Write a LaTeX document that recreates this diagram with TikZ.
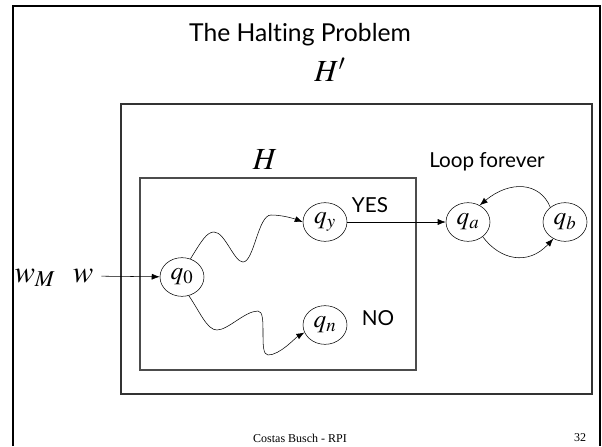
\documentclass[tikz,border=0pt]{standalone}
\usepackage{mathptmx}
\usepackage{fontspec}
\setmainfont{Liberation Serif}
\setsansfont{Lato}[Ligatures=NoCommon]
\usetikzlibrary{shapes.geometric, arrows.meta, positioning}

\begin{document}
\begin{tikzpicture}[x=0.75pt, y=-0.75pt, >={Latex[length=6pt,width=4.5pt]}, inner sep=1pt,
  state/.style={ellipse, draw, inner sep=0pt, minimum width=33pt, minimum height=29pt, font=\fontsize{19}{19}\selectfont},
  label/.style={font=\sffamily\fontsize{15.5}{15.5}\selectfont}]
\useasboundingbox (0,0) rectangle (602,446);

% slide frame and the two machines
\draw [line width=2pt] (13,446) -- (13,6) -- (600,6) -- (600,446);
\draw [black!80, line width=0.8pt] (121,104) rectangle (592,394);
\draw [black!70, line width=0.8pt] (140,178) rectangle (416,370);

\node (title) at (300,35) {\sffamily\fontsize{18.5}{18.5}\selectfont The Halting Problem};
\node (Hp) at (330,70) {\fontsize{23}{23}\selectfont $H'$};
\node (H) at (265,160) {\fontsize{23}{23}\selectfont $H$};

\node (q0) [state] at (182,277) {$q_0$};
\node (qy) [state] at (325,222) {$q_y$};
\node (qn) [state] at (325,325) {$q_n$};
\node (qa) [state] at (468,222) {$q_a$};
\node (qb) [state] at (565,222) {$q_b$};

\node (w) at (83,276) {\fontsize{23}{23}\selectfont $w$};
\node (wM) at (35,278) {\fontsize{23}{23}\selectfont $w_M$};

\node (yes) [label] at (370,205) {YES};
\node (no) [label] at (378,318) {NO};
\node (loop) [label] at (487,162) {Loop forever};

\node (author) at (300,438) {\fontsize{9}{9}\selectfont Costas Busch - RPI};
\node (page) at (580,438) {\fontsize{9}{9}\selectfont 32};

\draw [->, shorten <=5pt] (w) -- (q0);
\draw [->] (q0.65) .. controls (202,240) and (207,232) .. (214,232)
  .. controls (225,232) and (234,262) .. (243,262)
  .. controls (254,262) and (258,215) .. (271,215)
  .. controls (283,215) and (295,219) .. (qy.west);
\draw [->] (q0.-70) .. controls (200,312) and (207,330) .. (217,330)
  .. controls (228,330) and (245,311) .. (258,311)
  .. controls (268,311) and (258,355) .. (268,355)
  .. controls (280,355) and (295,338) .. (qn.-160);
\draw [->] (qy) -- (qa);
\draw [->] (qa.-45) .. controls (500,260) and (528,266) .. (qb.-125);
\draw [->] (qb.135) .. controls (540,182) and (510,180) .. (qa.55);
\end{tikzpicture}
\end{document}
